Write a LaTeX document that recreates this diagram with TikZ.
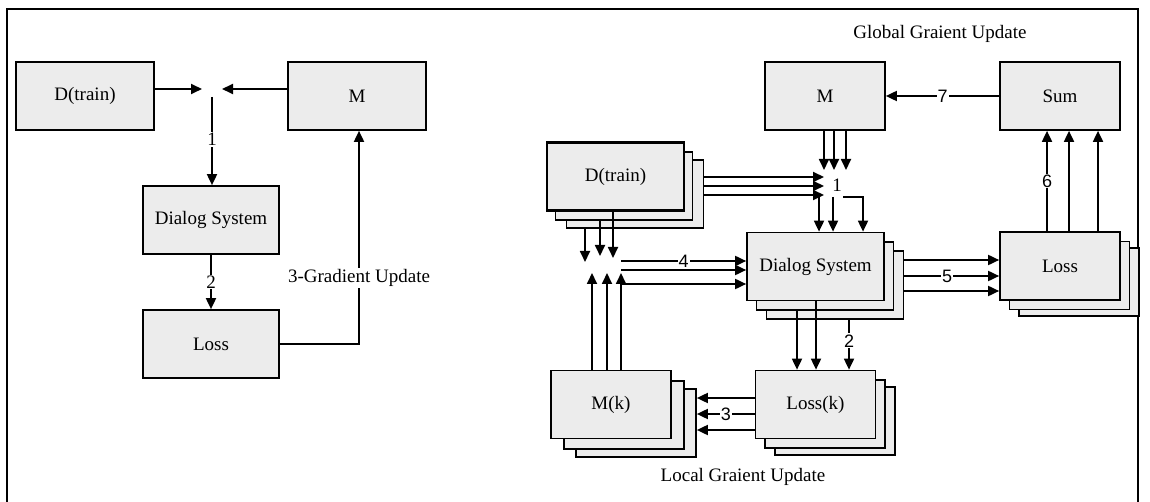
\documentclass[tikz,border=0pt]{standalone}
\usepackage{fontspec}
\setmainfont{Liberation Serif}
\newfontfamily\numfont{Liberation Sans}
\usetikzlibrary{arrows.meta}
\definecolor{boxfill}{RGB}{236,236,236}
\begin{document}
\begin{tikzpicture}[x=1pt,y=-1pt,
  blk/.style={draw=black, fill=boxfill, line width=1.7pt, minimum height=68pt,
    inner sep=0pt, font=\fontsize{19}{23}\selectfont},
  wide/.style={minimum width=137pt},
  narrow/.style={minimum width=120pt},
  arr/.style={line width=1.8pt, -{Triangle[length=11pt,width=10pt]}},
  num/.style={fill=white, inner sep=1pt, font=\numfont\fontsize{18}{20}\selectfont},
  snum/.style={fill=white, inner sep=1pt, font=\fontsize{19}{21}\selectfont},
  caption/.style={font=\fontsize{19}{23}\selectfont}
]
\useasboundingbox (0,0) rectangle (1150,502);

% outer frame (open at the bottom)
\begin{scope}
  \clip (0,0) rectangle (1150,502);
  \draw[line width=2pt] (7,520) |- (1138,9) -- (1138,520);
\end{scope}

% ---------------- single-model training ----------------
\node[blk, minimum width=138pt] (ld) at (85,96) {D(train)};
\node[blk, minimum width=138pt] (lm) at (357,96) {M};
\node[blk, minimum width=136pt] (lds) at (211,220) {Dialog System};
\node[blk, minimum width=136pt] (lloss) at (211,344) {Loss};

\coordinate (ljl) at (202,89);
\coordinate (ljr) at (222,89);
\coordinate (ljb) at (212,97);
\coordinate (lup) at (359,344);

\draw[arr] (ld.east |- ljl) -- (ljl);
\draw[arr] (lm.west |- ljr) -- (ljr);
\draw[arr] (ljb) -- node[snum, pos=0.48]{1} (ljb |- lds.north);
\draw[arr] (lds.south) -- node[snum]{2} (lloss.north);
\draw[arr] (lloss.east) -- (lup) -- node[caption, fill=white, inner sep=1pt, pos=0.31]{3-Gradient Update} (lup |- lm.south);

% ---------------- distributed training ----------------
\node[blk, narrow] (rm) at (825,96) {M};
\node[blk, narrow] (sum) at (1060,96) {Sum};

\node[blk, wide] (dt3) at (635,194) {};
\node[blk, wide] (dt2) at (624,186) {};
\node[blk, wide, line width=2.6pt] (dt) at (615.5,176.5) {D(train)};

\node[blk, wide] (ds3) at (835,285) {};
\node[blk, wide] (ds2) at (825,276) {};
\node[blk, wide] (ds) at (815.5,266.5) {Dialog System};

\node[blk, narrow] (loss3) at (1079,282) {};
\node[blk, narrow] (loss2) at (1069.5,275.5) {};
\node[blk, narrow] (loss) at (1060,266) {Loss};

\node[blk, narrow] (mk3) at (636,423) {};
\node[blk, narrow] (mk2) at (624,415) {};
\node[blk, narrow] (mk) at (611,404.5) {M(k)};

\node[blk, narrow] (lossk3) at (835,421) {};
\node[blk, narrow] (lossk2) at (825,414) {};
\node[blk, narrow] (lossk) at (815.5,404.5) {Loss(k)};

\node[caption] (gcap) at (940,34) {Global Graient Update};
\node[caption] (lcap) at (743,477) {Local Graient Update};

% 7: global update of M
\draw[arr] (sum.west) -- node[num]{7} (rm.east);

% 1: data and model meet before the dialog system
\coordinate (m1) at (824,170);
\coordinate (m2) at (834,170);
\coordinate (m3) at (846,170);
\draw[arr] (rm.south -| m1) -- (m1);
\draw[arr] (rm.south -| m2) -- (m2);
\draw[arr] (rm.south -| m3) -- (m3);

\coordinate (d1) at (824,177);
\coordinate (d2) at (824,186);
\coordinate (d3) at (824,195);
\draw[arr] (dt3.east |- d1) -- (d1);
\draw[arr] (dt3.east |- d2) -- (d2);
\draw[arr] (dt3.east |- d3) -- (d3);

\node[caption] (one) at (837,185) {1};

\coordinate (j1) at (819,196);
\coordinate (j2) at (833,197);
\coordinate (j3) at (843,197);
\coordinate (j3b) at (863,197);
\draw[arr] (j1) -- (j1 |- ds.north);
\draw[arr] (j2) -- (j2 |- ds.north);
\draw[arr] (j3) -- (j3b) -- (j3b |- ds.north);

% 4: data and local models into the dialog system
\coordinate (q1) at (585,262);
\coordinate (q2) at (600,256);
\coordinate (q3) at (613,258);
\draw[arr] (dt3.south -| q1) -- (q1);
\draw[arr] (dt2.south -| q2) -- (q2);
\draw[arr] (dt.south -| q3) -- (q3);

\coordinate (u1) at (592,273);
\coordinate (u2) at (607,273);
\coordinate (u3) at (621,273);
\draw[arr] (mk.north -| u1) -- (u1);
\draw[arr] (mk.north -| u2) -- (u2);
\draw[arr] (mk.north -| u3) -- (u3);

\coordinate (h1) at (621,261);
\coordinate (h2) at (621,270);
\coordinate (h3) at (621,284);
\draw[arr] (h1) -- node[num]{4} (h1 -| ds.west);
\draw[arr] (h2) -- (h2 -| ds.west);
\draw[arr] (h3) -- (h3 -| ds.west);

% 5: dialog system to loss
\coordinate (f1) at (950,260);
\coordinate (f2) at (950,276);
\coordinate (f3) at (950,291);
\draw[arr] (ds3.east |- f1) -- (loss.west |- f1);
\draw[arr] (ds3.east |- f2) -- node[num, pos=0.45]{5} (loss.west |- f2);
\draw[arr] (ds3.east |- f3) -- (loss.west |- f3);

% 6: losses summed
\coordinate (s1) at (1047,182);
\coordinate (s2) at (1069,182);
\coordinate (s3) at (1098,182);
\draw[arr] (loss.north -| s1) -- node[num]{6} (sum.south -| s1);
\draw[arr] (loss.north -| s2) -- (sum.south -| s2);
\draw[arr] (loss.north -| s3) -- (sum.south -| s3);

% 2: dialog system to local loss
\coordinate (t1) at (797,340);
\coordinate (t2) at (816,340);
\coordinate (t3) at (849,340);
\draw[arr] (ds2.south -| t1) -- (lossk.north -| t1);
\draw[arr] (ds.south -| t2) -- (lossk.north -| t2);
\draw[arr] (ds3.south -| t3) -- node[num, pos=0.42]{2} (lossk.north -| t3);

% 3: local gradient update
\coordinate (r1) at (726,398);
\coordinate (r2) at (726,414);
\coordinate (r3) at (726,430);
\draw[arr] (lossk.west |- r1) -- (mk3.east |- r1);
\draw[arr] (lossk.west |- r2) -- node[num]{3} (mk3.east |- r2);
\draw[arr] (lossk.west |- r3) -- (mk3.east |- r3);
\end{tikzpicture}
\end{document}
